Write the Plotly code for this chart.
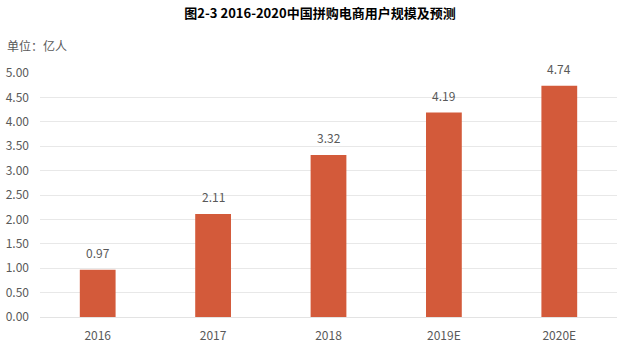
import plotly.graph_objects as go

categories = ["2016", "2017", "2018", "2019E", "2020E"]
values = [0.97, 2.11, 3.32, 4.19, 4.74]
title_text = "图2-3 2016-2020中国拼购电商用户规模及预测"
unit_text = "单位：亿人"

FONT = "Noto Sans CJK SC, Noto Sans, sans-serif"

fig = go.Figure(go.Bar(
    x=categories, y=values,
    marker=dict(color="#D35A3A", line=dict(width=0)),
))

# value labels above bars (category axis position by index)
label_annotations = [
    dict(x=i, y=v, xref="x", yref="y", text=f"{v:.2f}", showarrow=False,
         yanchor="bottom", yshift=7, font=dict(size=12, color="#595959", family=FONT))
    for i, v in enumerate(values)
]

fig.update_layout(
    width=640, height=346,
    margin=dict(l=40, r=23, t=73, b=29),
    paper_bgcolor="white", plot_bgcolor="white",
    bargap=0.69,
    showlegend=False,
    font=dict(family=FONT, color="#595959", size=12),
    title=dict(text=f"<b>{title_text}</b>", x=0.5, xanchor="center", y=0.96, yanchor="middle",
               font=dict(size=13, color="#000000", family=FONT)),
    annotations=[dict(text=unit_text, xref="paper", yref="paper", x=0, y=1, xshift=-35, yshift=28,
                      xanchor="left", yanchor="middle", showarrow=False,
                      font=dict(size=12, color="#595959", family=FONT))] + label_annotations,
)
fig.update_yaxes(range=[0, 5], dtick=0.5, tickformat=".2f", showgrid=True, gridcolor="#E8E8E8",
                 zeroline=False, showline=False, ticks="", ticklabelstandoff=10, automargin=False,
                 tickfont=dict(size=12, color="#595959"))
fig.update_xaxes(type="category", categoryorder="array", categoryarray=categories,
                 range=[-0.5, len(categories) - 0.5], automargin=False,
                 showline=True, linecolor="#E3E3E3", ticks="", ticklabelstandoff=8,
                 tickfont=dict(size=12, color="#595959"))

fig.write_html("out.html")
